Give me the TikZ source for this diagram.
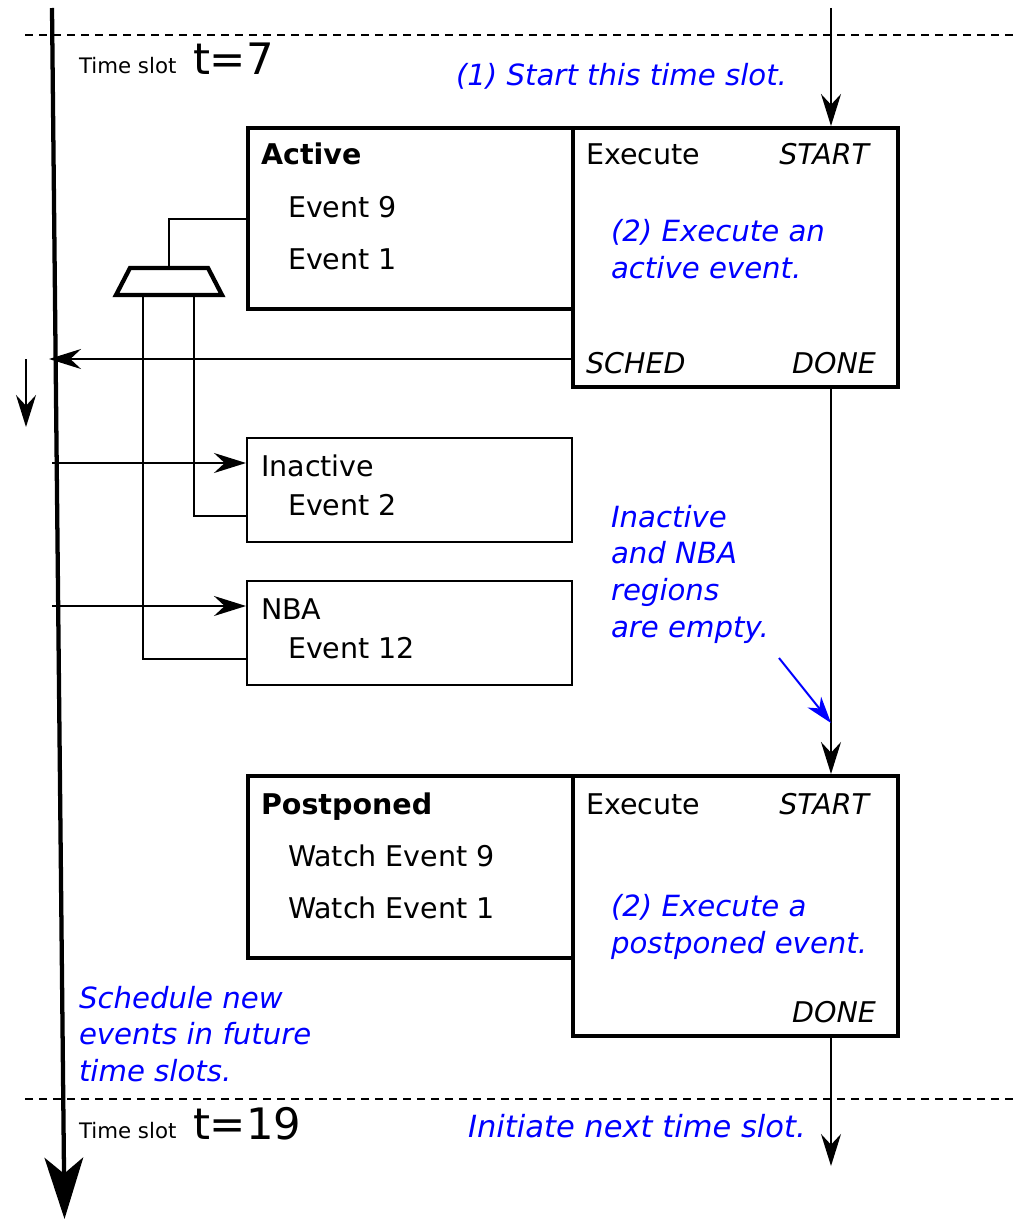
\documentclass[tikz,border=0pt]{standalone}
\usepackage{fontspec}
\setmainfont{DejaVu Sans}
\usetikzlibrary{arrows.meta}

\tikzset{every picture/.style={line width=1.5pt}}
\tikzset{
  regbox/.style={draw, line width=3.2pt, anchor=north west, inner sep=0, minimum width=243.75pt},
  thinbox/.style={draw, line width=1.5pt, anchor=north west, inner sep=0, minimum width=243.75pt, minimum height=78pt},
  txt/.style={inner sep=0, font=\fontsize{21.4}{27.4}\selectfont},
  lbl/.style={txt, anchor=base west},
  note/.style={inner sep=0, anchor=base west, align=left, text=blue, font=\fontsize{21.9}{27.2}\selectfont\itshape},
  arr/.style={-{Stealth[length=24pt,width=15pt,inset=8pt]}, line width=1.5pt},
  slotline/.style={line width=1.2pt, dash pattern=on 6pt off 4.5pt}
}

\begin{document}
\begin{tikzpicture}[x=0.75pt,y=0.75pt,yscale=-1,xscale=1]
\useasboundingbox (0,0) rectangle (1019,1220);

%Time slot borders
\draw [slotline] (25,35) -- (1019,35) ;
\draw [slotline] (25,1099) -- (1019,1099) ;

%Time axis
\coordinate (axisTop) at (52,8);
\coordinate (axisEnd) at (64.5,1219);
\draw [line width=3.2pt, -{Stealth[length=46pt,width=29pt,inset=12pt]}] (axisTop) -- (axisEnd) ;

%Regions
\node [regbox, minimum height=135.75pt] (active) at (246,126) {};
\node [regbox, minimum height=194.25pt] (exec) at (571,126) {};
\node [thinbox] (inactive) at (246,437) {};
\node [thinbox] (nba) at (246,580) {};
\node [regbox, minimum height=136.5pt] (postponed) at (246,774) {};
\node [regbox, minimum height=195pt] (execPost) at (571,774) {};

%Shape: Trapezium (picks the next event)
\draw [line width=3.2pt, line join=miter] (130,268) -- (208,268) -- (222,295) -- (116,295) -- cycle ;
\coordinate (muxOut) at (168.5,268);
\coordinate (muxInA) at (194,295);
\coordinate (muxInB) at (143,295);

%Mux lines
\draw (muxOut) |- (active.west) ;
\draw (muxInA) |- ([yshift=19.5pt]inactive.west) ;
\draw (muxInB) |- ([yshift=19.5pt]nba.west) ;

%Flow through the time slot
\coordinate (slotIn) at (831,8);
\coordinate (slotOut) at (831,1166);
\draw [arr] (slotIn) -- (slotIn |- exec.north) ;
\draw [arr] (exec.south -| slotIn) -- (execPost.north -| slotIn) ;
\draw [arr] (execPost.south -| slotIn) -- (slotOut) ;

%Scheduling arrows
\coordinate (schedOut) at (571,359);
\coordinate (schedIn) at (49,359);
\draw [arr] (schedOut) -- (schedIn) ;
\coordinate (inactIn) at (52,463);
\draw [arr] (inactIn) -- (inactIn -| inactive.west) ;
\coordinate (nbaIn) at (52,606);
\draw [arr] (nbaIn) -- (nbaIn -| nba.west) ;
\coordinate (downA) at (26,359);
\coordinate (downB) at (26,427);
\draw [arr] (downA) -- (downB) ;

%Empty regions note arrow
\coordinate (emptyFrom) at (779,658);
\coordinate (emptyTo) at (831,723);
\draw [blue, line width=1.5pt, -{Stealth[length=20pt,width=13pt,inset=6pt]}] (emptyFrom) -- (emptyTo) ;

% Text Node
\node [inner sep=0, anchor=base west, font=\fontsize{16}{19}\selectfont] (slotA) at (78,74) {Time slot};
\node [inner sep=0, anchor=base west, font=\fontsize{32.5}{38}\selectfont] (tA) at (192,75) {t=7};
\node [inner sep=0, anchor=base west, font=\fontsize{16}{19}\selectfont] (slotB) at (78,1138) {Time slot};
\node [inner sep=0, anchor=base west, font=\fontsize{32.5}{38}\selectfont] (tB) at (192,1139) {t=19};
% Text Node
\node [note] (noteStart) at (455,86) {(1) Start this time slot.};
\node [note, font=\fontsize{22.9}{27.2}\selectfont\itshape] (noteNext) at (467,1137) {Initiate next time slot.};
% Text Node
\node [lbl, font=\fontsize{21.4}{27.4}\selectfont\bfseries] (activeT) at (260,165) {Active};
\node [lbl] (ev9) at (287,217) {Event 9};
\node [lbl] (ev1) at (287,269) {Event 1};
\node [lbl] (execT) at (585,165) {Execute};
\node [txt, anchor=base east, font=\fontsize{21.4}{27.4}\selectfont\itshape] (startT) at (870,165) {START};
\node [note] (noteExec) at (610,278) {(2) Execute an\\active event.};
\node [lbl, font=\fontsize{21.4}{27.4}\selectfont\itshape] (schedT) at (585,373) {SCHED};
\node [txt, anchor=base east, font=\fontsize{21.4}{27.4}\selectfont\itshape] (doneT) at (877,373) {DONE};
% Text Node
\node [lbl] (inactT) at (260,476) {Inactive};
\node [lbl] (ev2) at (287,515) {Event 2};
\node [lbl] (nbaT) at (260,619) {NBA};
\node [lbl] (ev12) at (287,658) {Event 12};
\node [note, font=\fontsize{21.9}{27.4}\selectfont\itshape] (noteEmpty) at (610,637) {Inactive\\and NBA\\regions\\are empty.};
% Text Node
\node [lbl, font=\fontsize{21.4}{27.4}\selectfont\bfseries] (postT) at (260,814) {Postponed};
\node [lbl] (wev9) at (287,866) {Watch Event 9};
\node [lbl] (wev1) at (287,918) {Watch Event 1};
\node [lbl] (execPostT) at (585,814) {Execute};
\node [txt, anchor=base east, font=\fontsize{21.4}{27.4}\selectfont\itshape] (startPostT) at (870,814) {START};
\node [note] (notePost) at (610,953) {(2) Execute a\\postponed event.};
\node [txt, anchor=base east, font=\fontsize{21.4}{27.4}\selectfont\itshape] (donePostT) at (877,1022) {DONE};
\node [note] (noteFuture) at (78,1081) {Schedule new\\events in future\\time slots.};

\end{tikzpicture}
\end{document}
